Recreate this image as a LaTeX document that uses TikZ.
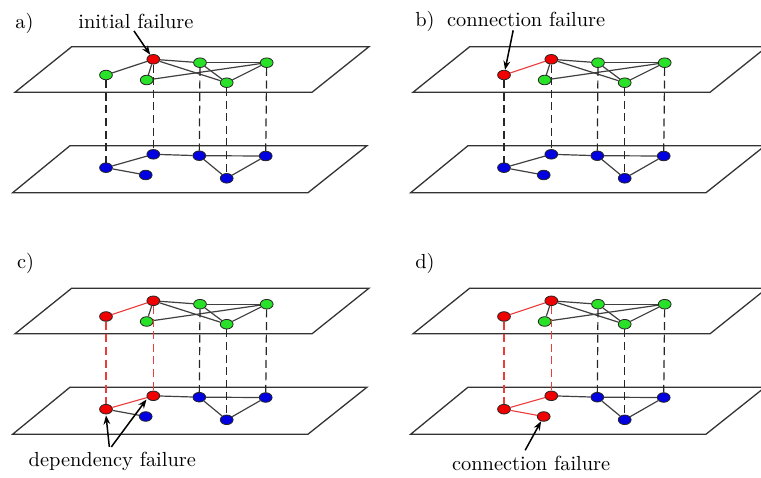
\documentclass[tikz,border=0pt]{standalone}
\usetikzlibrary{shapes.geometric,arrows.meta}

\definecolor{failred}{RGB}{240,0,0}
\definecolor{upgreen}{RGB}{40,225,40}
\definecolor{lowblue}{RGB}{0,0,225}
\definecolor{linkred}{RGB}{235,60,60}

\tikzset{
  plane/.style={draw=black!80, line width=0.65pt},
  site/.style={ellipse, draw=black!85, line width=0.4pt, minimum width=6.4pt, minimum height=4.8pt, inner sep=0pt},
  failed/.style={site, fill=failred},
  upper/.style={site, fill=upgreen},
  lower/.style={site, fill=lowblue},
  link/.style={draw=black!75, line width=0.6pt},
  redlink/.style={draw=linkred, line width=0.55pt},
  dep/.style={draw=black!85, line width=0.6pt, dash pattern=on 4pt off 2.3pt},
  reddep/.style={dep, draw=linkred},
  caption/.style={anchor=base west, inner sep=0pt, font=\fontsize{10.2}{12}\selectfont},
  pointer/.style={-{Stealth[length=4.5pt,width=3.4pt]}, line width=0.75pt}
}

\begin{document}
\begin{tikzpicture}[x=0.5pt,y=-0.5pt]
\useasboundingbox (0,0) rectangle (761,477);

% a) initial failure
\begin{scope}[name prefix=a-]
\draw[plane] (71.7,46.7) -- (369,46.7) -- (312,92.3) -- (15,92.3) -- cycle;
\draw[plane] (70,145.7) -- (367,145.7) -- (308,192.7) -- (12.7,192.7) -- cycle;

\node[upper] (t1) at (106,75) {};
\node[failed] (t2) at (153.3,59.3) {};
\node[upper] (t3) at (146.7,80) {};
\node[upper] (t4) at (200,62.7) {};
\node[upper] (t5) at (226.7,82.7) {};
\node[upper] (t6) at (266.7,62.7) {};

\node[lower] (b1) at (106,167.7) {};
\node[lower] (b2) at (145.7,175) {};
\node[lower] (b3) at (153.3,154.3) {};
\node[lower] (b4) at (199.3,155.7) {};
\node[lower] (b5) at (226.7,178.3) {};
\node[lower] (b6) at (265.7,156) {};

\draw[link] (t1) -- (t2);
\draw[link] (t2) -- (t3);
\draw[link] (t2) -- (t4);
\draw[link] (t2) -- (t5);
\draw[link] (t4) -- (t6);
\draw[link] (t4) -- (t5);
\draw[link] (t3) -- (t6);
\draw[link] (t5) -- (t6);

\draw[link] (b1) -- (b3);
\draw[link] (b1) -- (b2);
\draw[link] (b3) -- (b4);
\draw[link] (b4) -- (b6);
\draw[link] (b4) -- (b5);
\draw[link] (b5) -- (b6);

\draw[dep] (t1) -- (b1);
\draw[dep] (t2) -- (b3);
\draw[dep] (t4) -- (b4);
\draw[dep] (t5) -- (b5);
\draw[dep] (t6) -- (b6);

\node[caption] (tag) at (15,28.3) {a)};
\node[caption] (lab) at (78,28.3) {initial failure};
\draw[pointer] ([xshift=-1pt,yshift=-1pt]lab.south) -- (t2);
\end{scope}

% b) connection failure
\begin{scope}[shift={(398,0)}, name prefix=b-]
\draw[plane] (71.7,46.7) -- (369,46.7) -- (312,92.3) -- (15,92.3) -- cycle;
\draw[plane] (70,145.7) -- (367,145.7) -- (308,192.7) -- (12.7,192.7) -- cycle;

\node[failed] (t1) at (106,75) {};
\node[failed] (t2) at (153.3,59.3) {};
\node[upper] (t3) at (146.7,80) {};
\node[upper] (t4) at (200,62.7) {};
\node[upper] (t5) at (226.7,82.7) {};
\node[upper] (t6) at (266.7,62.7) {};

\node[lower] (b1) at (106,167.7) {};
\node[lower] (b2) at (145.7,175) {};
\node[lower] (b3) at (153.3,154.3) {};
\node[lower] (b4) at (199.3,155.7) {};
\node[lower] (b5) at (226.7,178.3) {};
\node[lower] (b6) at (265.7,156) {};

\draw[redlink] (t1) -- (t2);
\draw[link] (t2) -- (t3);
\draw[link] (t2) -- (t4);
\draw[link] (t2) -- (t5);
\draw[link] (t4) -- (t6);
\draw[link] (t4) -- (t5);
\draw[link] (t3) -- (t6);
\draw[link] (t5) -- (t6);

\draw[link] (b1) -- (b3);
\draw[link] (b1) -- (b2);
\draw[link] (b3) -- (b4);
\draw[link] (b4) -- (b6);
\draw[link] (b4) -- (b5);
\draw[link] (b5) -- (b6);

\draw[dep] (t1) -- (b1);
\draw[dep] (t2) -- (b3);
\draw[dep] (t4) -- (b4);
\draw[dep] (t5) -- (b5);
\draw[dep] (t6) -- (b6);

\node[caption] (tag) at (17,26.7) {b)};
\node[caption] (lab) at (48.7,26.7) {connection failure};
\draw[pointer] ([xshift=-6.5pt,yshift=-1.5pt]lab.south) -- (t1);
\end{scope}

% c) dependency failure
\begin{scope}[shift={(0,241.5)}, name prefix=c-]
\draw[plane] (71.7,46.7) -- (369,46.7) -- (312,92.3) -- (15,92.3) -- cycle;
\draw[plane] (70,145.7) -- (367,145.7) -- (308,192.7) -- (12.7,192.7) -- cycle;

\node[failed] (t1) at (106,75) {};
\node[failed] (t2) at (153.3,59.3) {};
\node[upper] (t3) at (146.7,80) {};
\node[upper] (t4) at (200,62.7) {};
\node[upper] (t5) at (226.7,82.7) {};
\node[upper] (t6) at (266.7,62.7) {};

\node[failed] (b1) at (106,167.7) {};
\node[lower] (b2) at (145.7,175) {};
\node[failed] (b3) at (153.3,154.3) {};
\node[lower] (b4) at (199.3,155.7) {};
\node[lower] (b5) at (226.7,178.3) {};
\node[lower] (b6) at (265.7,156) {};

\draw[redlink] (t1) -- (t2);
\draw[link] (t2) -- (t3);
\draw[link] (t2) -- (t4);
\draw[link] (t2) -- (t5);
\draw[link] (t4) -- (t6);
\draw[link] (t4) -- (t5);
\draw[link] (t3) -- (t6);
\draw[link] (t5) -- (t6);

\draw[redlink] (b1) -- (b3);
\draw[link] (b1) -- (b2);
\draw[link] (b3) -- (b4);
\draw[link] (b4) -- (b6);
\draw[link] (b4) -- (b5);
\draw[link] (b5) -- (b6);

\draw[reddep] (t1) -- (b1);
\draw[reddep] (t2) -- (b3);
\draw[dep] (t4) -- (b4);
\draw[dep] (t5) -- (b5);
\draw[dep] (t6) -- (b6);

\node[caption] (tag) at (16.7,26.8) {c)};
\node[caption] (lab) at (28.3,225.2) {dependency failure};
\draw[pointer] ([xshift=-1.5pt,yshift=2.5pt]lab.north) -- ([yshift=-0.5pt]b1.south);
\draw[pointer] ([xshift=-0.5pt,yshift=2.5pt]lab.north) -- ([xshift=-1pt]b3.south west);
\end{scope}

% d) connection failure
\begin{scope}[shift={(398,241.5)}, name prefix=d-]
\draw[plane] (71.7,46.7) -- (369,46.7) -- (312,92.3) -- (15,92.3) -- cycle;
\draw[plane] (70,145.7) -- (367,145.7) -- (308,192.7) -- (12.7,192.7) -- cycle;

\node[failed] (t1) at (106,75) {};
\node[failed] (t2) at (153.3,59.3) {};
\node[upper] (t3) at (146.7,80) {};
\node[upper] (t4) at (200,62.7) {};
\node[upper] (t5) at (226.7,82.7) {};
\node[upper] (t6) at (266.7,62.7) {};

\node[failed] (b1) at (106,167.7) {};
\node[failed] (b2) at (145.7,175) {};
\node[failed] (b3) at (153.3,154.3) {};
\node[lower] (b4) at (199.3,155.7) {};
\node[lower] (b5) at (226.7,178.3) {};
\node[lower] (b6) at (265.7,156) {};

\draw[redlink] (t1) -- (t2);
\draw[link] (t2) -- (t3);
\draw[link] (t2) -- (t4);
\draw[link] (t2) -- (t5);
\draw[link] (t4) -- (t6);
\draw[link] (t4) -- (t5);
\draw[link] (t3) -- (t6);
\draw[link] (t5) -- (t6);

\draw[redlink] (b1) -- (b3);
\draw[redlink] (b1) -- (b2);
\draw[link] (b3) -- (b4);
\draw[link] (b4) -- (b6);
\draw[link] (b4) -- (b5);
\draw[link] (b5) -- (b6);

\draw[reddep] (t1) -- (b1);
\draw[reddep] (t2) -- (b3);
\draw[dep] (t4) -- (b4);
\draw[dep] (t5) -- (b5);
\draw[dep] (t6) -- (b6);

\node[caption] (tag) at (17,26.8) {d)};
\node[caption] (lab) at (53.7,228.5) {connection failure};
\draw[pointer] ([xshift=-3pt,yshift=2.5pt]lab.north) -- (b2);
\end{scope}
\end{tikzpicture}
\end{document}
